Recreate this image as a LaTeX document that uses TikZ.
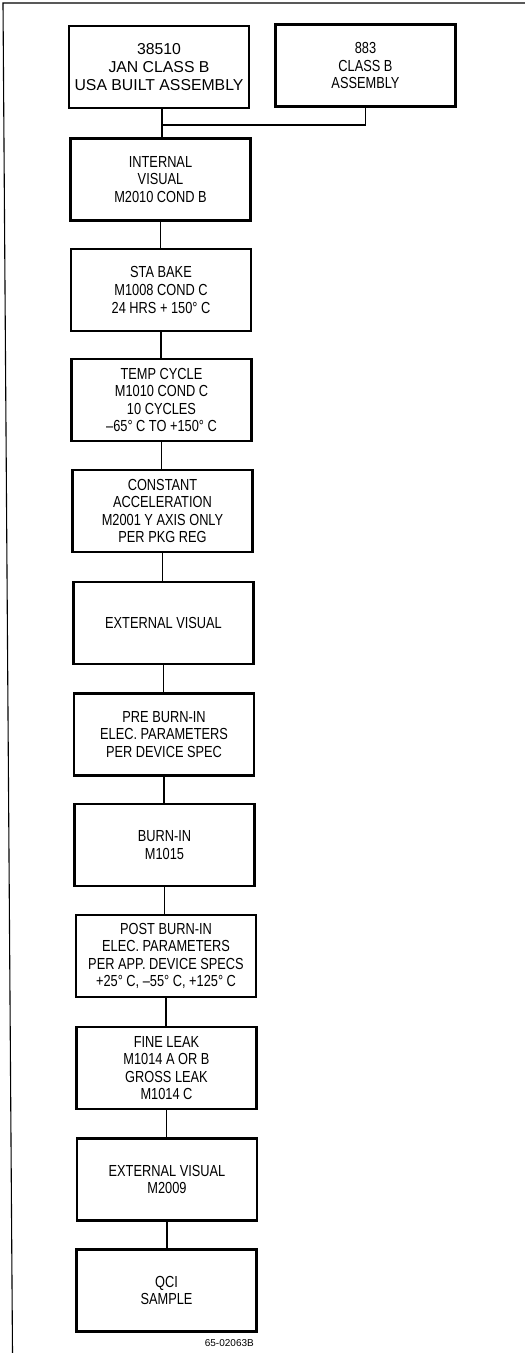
\documentclass[tikz,border=0pt]{standalone}
\usepackage{fontspec}
\setmainfont[FakeStretch=0.8]{Liberation Sans}
\newfontfamily\widefont{Liberation Sans}
\begin{document}
\begin{tikzpicture}[x=1pt,y=-1pt,
  box/.style={draw, line width=2.6pt, minimum width=180pt, minimum height=82pt,
    align=center, inner sep=0pt, font=\fontsize{16}{17.6}\selectfont},
  link/.style={line width=1.4pt},
  frame/.style={line width=1.1pt}]
\useasboundingbox (0,0) rectangle (525,1353);
\draw[frame] (12.5,1353) -- (3,3) -- (525,3);
\node[box, font=\widefont\fontsize{15.8}{17.6}\selectfont] (b1) at (159,67) {38510\\JAN CLASS B\\USA BUILT ASSEMBLY};
\node[box] (b2) at (365.5,65.5) {883\\CLASS B\\ASSEMBLY};
\node[box] (b3) at (160.5,179.5) {INTERNAL\\VISUAL\\M2010 COND B};
\node[box] (b4) at (161,290) {STA BAKE\\M1008 COND C\\24 HRS + 150° C};
\node[box] (b5) at (161.5,400) {TEMP CYCLE\\M1010 COND C\\10 CYCLES\\–65° C TO +150° C};
\node[box] (b6) at (162.5,511) {CONSTANT\\ACCELERATION\\M2001 Y AXIS ONLY\\PER PKG REG};
\node[box] (b7) at (163.5,623) {EXTERNAL VISUAL};
\node[box] (b8) at (164,734.5) {PRE BURN-IN\\ELEC. PARAMETERS\\PER DEVICE SPEC};
\node[box] (b9) at (164.5,845) {BURN-IN\\M1015};
\node[box] (b10) at (166,956) {POST BURN-IN\\ELEC. PARAMETERS\\PER APP. DEVICE SPECS\\+25° C, –55° C, +125° C};
\node[box] (b11) at (166.5,1068) {FINE LEAK\\M1014 A OR B\\GROSS LEAK\\M1014 C};
\node[box] (b12) at (167,1179.5) {EXTERNAL VISUAL\\M2009};
\node[box] (b13) at (166.5,1290.5) {QCI\\SAMPLE};
\node[anchor=base east, inner sep=0pt, font=\widefont\fontsize{10}{11}\selectfont] (code) at (254,1346) {65-02063B};
\coordinate (j) at (162,125);
\draw[link] (j |- b1.south) -- (j) -- (j -| b2.south) -- (b2.south);
\draw[link] (j) -- (j |- b3.north);
\foreach \a/\b in {b3/b4,b4/b5,b5/b6,b6/b7,b7/b8,b8/b9,b9/b10,b10/b11,b11/b12,b12/b13}
  \draw[link] (\a.south) -- (\a.south |- \b.north);
\end{tikzpicture}
\end{document}
